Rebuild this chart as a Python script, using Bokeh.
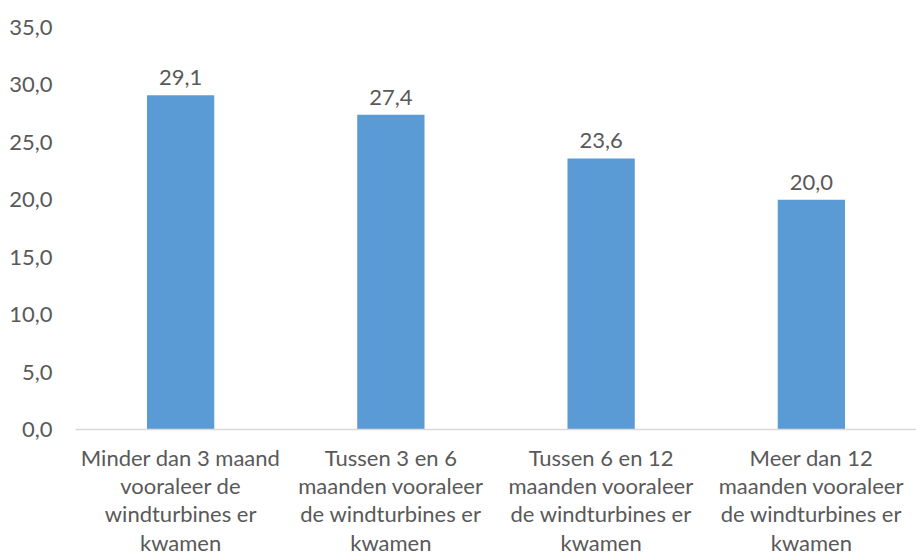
from bokeh.plotting import figure
from bokeh.models import ColumnDataSource, FixedTicker, CustomJSTickFormatter, Range1d, LabelSet
from bokeh.core.properties import value
from bokeh.embed import file_html
from bokeh.resources import INLINE

categories = [
    "Minder dan 3 maand\nvooraleer de\nwindturbines er\nkwamen",
    "Tussen 3 en 6\nmaanden vooraleer\nde windturbines er\nkwamen",
    "Tussen 6 en 12\nmaanden vooraleer\nde windturbines er\nkwamen",
    "Meer dan 12\nmaanden vooraleer\nde windturbines er\nkwamen",
]
values = [29.1, 27.4, 23.6, 20.0]
value_labels = ["29,1", "27,4", "23,6", "20,0"]
y_ticks = [0, 5, 10, 15, 20, 25, 30, 35]

FONT = "Lato"
TXT = "#595959"
FS = "22px"

source = ColumnDataSource(dict(cat=categories, val=values, lab=value_labels))

p = figure(x_range=categories, y_range=Range1d(0, 35), width=916, height=558,
           output_backend="svg", toolbar_location=None,
           min_border_left=75, min_border_right=0, min_border_top=27, min_border_bottom=128)

p.vbar(x="cat", top="val", width=0.32, source=source, color="#5B9BD5", line_color=None)

labels = LabelSet(x="cat", y="val", text="lab", source=source, text_align="center",
                  text_baseline="bottom", y_offset=10, text_font=value(FONT),
                  text_font_size=value(FS), text_color=TXT)
p.add_layout(labels)

p.grid.visible = False
p.outline_line_color = None
p.background_fill_color = "white"
p.border_fill_color = "white"

p.yaxis.ticker = FixedTicker(ticks=y_ticks)
p.yaxis.formatter = CustomJSTickFormatter(code="return tick.toFixed(1).replace('.', ',');")
p.yaxis.axis_line_color = None
p.yaxis.major_tick_line_color = None
p.yaxis.minor_tick_line_color = None
p.yaxis.major_label_standoff = 17
p.yaxis.major_label_text_font = FONT
p.yaxis.major_label_text_font_size = FS
p.yaxis.major_label_text_color = TXT

p.xaxis.axis_line_color = "#D9D9D9"
p.xaxis.axis_line_width = 1.5
p.xaxis.major_tick_line_color = None
p.xaxis.minor_tick_line_color = None
p.xaxis.major_label_standoff = 8
p.xaxis.major_label_text_font = FONT
p.xaxis.major_label_text_font_size = FS
p.xaxis.major_label_text_color = TXT
p.xaxis.major_label_text_line_height = 1.05
p.xaxis.major_label_text_align = "center"
p.x_range.range_padding = 0

open("out.html", "w").write(file_html(p, INLINE))
